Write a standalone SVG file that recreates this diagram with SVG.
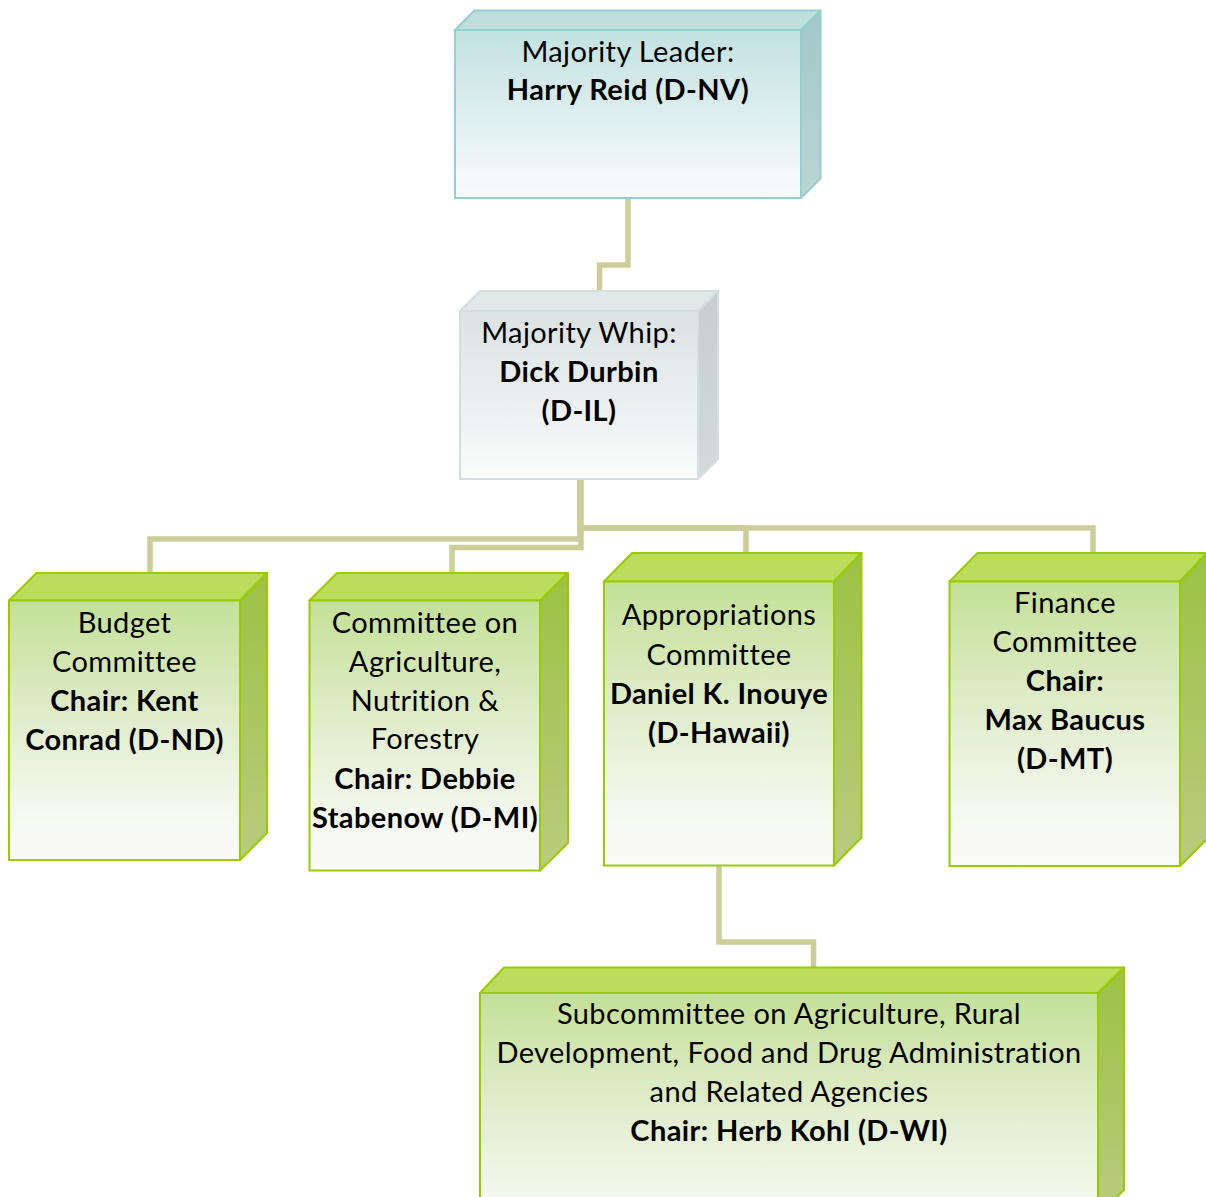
<svg xmlns="http://www.w3.org/2000/svg" width="1206" height="1197" viewBox="0 0 1206 1197">
<defs>
<linearGradient id="tealFront" x1="0" y1="0" x2="0" y2="1">
<stop offset="0" stop-color="#C3E2E1"/><stop offset="0.5" stop-color="#DDEEEE"/><stop offset="1" stop-color="#FBFCFC"/>
</linearGradient>
<linearGradient id="tealSide" x1="0" y1="0" x2="0" y2="1">
<stop offset="0" stop-color="#A2C8C7"/><stop offset="1" stop-color="#BAD5D4"/>
</linearGradient>
<linearGradient id="greyFront" x1="0" y1="0" x2="0" y2="1">
<stop offset="0" stop-color="#DCE2E2"/><stop offset="0.55" stop-color="#EBEFEF"/><stop offset="1" stop-color="#FBFCFC"/>
</linearGradient>
<linearGradient id="greySide" x1="0" y1="0" x2="0" y2="1">
<stop offset="0" stop-color="#C6CECE"/><stop offset="1" stop-color="#D4DADA"/>
</linearGradient>
<linearGradient id="greenFront" x1="0" y1="0" x2="0" y2="1">
<stop offset="0" stop-color="#C4E097"/><stop offset="0.45" stop-color="#E0EDCB"/><stop offset="0.85" stop-color="#F7F9F3"/><stop offset="1" stop-color="#FAFAF9"/>
</linearGradient>
<linearGradient id="greenSide" x1="0" y1="0" x2="0" y2="1">
<stop offset="0" stop-color="#9DC143"/><stop offset="1" stop-color="#B8CC7F"/>
</linearGradient>
<linearGradient id="subFront" x1="0" y1="0" x2="0" y2="1">
<stop offset="0" stop-color="#C4E097"/><stop offset="0.5" stop-color="#E0EDCB"/><stop offset="1" stop-color="#F7F9F3"/>
</linearGradient>
</defs>
<style>
.teal .front{fill:url(#tealFront);stroke:#93CFCC;stroke-width:2}
.teal .top{fill:#BEDFDE;stroke:#93CFCC;stroke-width:2;stroke-linejoin:round}
.teal .side{fill:url(#tealSide);stroke:#93CFCC;stroke-width:2;stroke-linejoin:round}
.grey .front{fill:url(#greyFront);stroke:#D5DEDE;stroke-width:2}
.grey .top{fill:#E2E8E8;stroke:#D5DEDE;stroke-width:2;stroke-linejoin:round}
.grey .side{fill:url(#greySide);stroke:#D5DEDE;stroke-width:2;stroke-linejoin:round}
.green .front{fill:url(#greenFront);stroke:#99CC00;stroke-width:2}
.green .top{fill:#BCDC5E;stroke:#99CC00;stroke-width:2;stroke-linejoin:round}
.green .side{fill:url(#greenSide);stroke:#99CC00;stroke-width:2;stroke-linejoin:round}
.sub .front{fill:url(#subFront)}
text{font-family:Lato,"Noto Sans",sans-serif;font-size:29px;letter-spacing:0.4px;fill:#000;text-anchor:middle}
.b{font-weight:bold}
.conn path{fill:none;stroke:#CDCD99;stroke-width:5.5}
</style>
<g class="conn" id="connectors">
<path d="M628,198 V265 H599.5 V291"/>
<path d="M580,479 V539 H150 V573"/>
<path d="M581,479 V547.5 H452 V573"/>
<path d="M580,479 V528 H746 V553"/>
<path d="M580,479 V528 H1093 V553"/>
<path d="M719,866 V942 H813.5 V967"/>
</g>
<g id="leader" class="teal">
<polygon class="top" points="455,30 474.5,10.5 820.5,10.5 801,30"/>
<polygon class="side" points="801,30 820.5,10.5 820.5,178.5 801,198"/>
<rect class="front" x="455" y="30" width="346" height="168"/>
<text x="628" y="62">Majority Leader:</text>
<text x="628" y="100" class="b">Harry Reid (D-NV)</text>
</g>
<g id="whip" class="grey">
<polygon class="top" points="460,311 480,291 718,291 698,311"/>
<polygon class="side" points="698,311 718,291 718,459 698,479"/>
<rect class="front" x="460" y="311" width="238" height="168"/>
<text x="579" y="343">Majority Whip:</text>
<text x="579" y="382" class="b">Dick Durbin</text>
<text x="579" y="421" class="b">(D-IL)</text>
</g>
<g id="budget" class="green">
<polygon class="top" points="9,600.5 36.5,573 267,573 240,600.5"/>
<polygon class="side" points="240,600.5 267,573 267,833 240,860"/>
<rect class="front" x="9" y="600.5" width="231" height="259.5"/>
<text x="124.5" y="633">Budget</text>
<text x="124.5" y="672">Committee</text>
<text x="124.5" y="711" class="b">Chair: Kent</text>
<text x="124.5" y="750" class="b">Conrad (D-ND)</text>
</g>
<g id="agriculture" class="green">
<polygon class="top" points="309.5,600.5 337,573 568,573 540,600.5"/>
<polygon class="side" points="540,600.5 568,573 568,843 540,870.5"/>
<rect class="front" x="309.5" y="600.5" width="230.5" height="270"/>
<text x="425" y="633">Committee on</text>
<text x="425" y="672">Agriculture,</text>
<text x="425" y="711">Nutrition &amp;</text>
<text x="425" y="749">Forestry</text>
<text x="425" y="789" class="b">Chair: Debbie</text>
<text x="425" y="828" class="b">Stabenow (D-MI)</text>
</g>
<g id="appropriations" class="green">
<polygon class="top" points="604,581.5 632,553 861.5,553 834,581.5"/>
<polygon class="side" points="834,581.5 861.5,553 861.5,837.5 834,865.5"/>
<rect class="front" x="604" y="581.5" width="230" height="284"/>
<text x="719" y="625">Appropriations</text>
<text x="719" y="665">Committee</text>
<text x="719" y="703.5" class="b">Daniel K. Inouye</text>
<text x="719" y="742.5" class="b">(D-Hawaii)</text>
</g>
<g id="finance" class="green">
<polygon class="top" points="949.5,581.5 977.5,553 1207,553 1180,581.5"/>
<polygon class="side" points="1180,581.5 1207,553 1207,839 1180,866"/>
<rect class="front" x="949.5" y="581.5" width="230.5" height="284.5"/>
<text x="1065" y="613">Finance</text>
<text x="1065" y="652">Committee</text>
<text x="1065" y="691" class="b">Chair:</text>
<text x="1065" y="730" class="b">Max Baucus</text>
<text x="1065" y="769" class="b">(D-MT)</text>
</g>
<g id="subcommittee" class="green sub">
<polygon class="top" points="480,993 504,967.5 1124,967.5 1098,993"/>
<polygon class="side" points="1098,993 1124,967.5 1124,1190 1098,1215"/>
<rect class="front" x="480" y="993" width="618" height="222"/>
<text x="789" y="1023.5">Subcommittee on Agriculture, Rural</text>
<text x="789" y="1062.5">Development, Food and Drug Administration</text>
<text x="789" y="1101.5">and Related Agencies</text>
<text x="789" y="1141" class="b">Chair: Herb Kohl (D-WI)</text>
</g>
</svg>
